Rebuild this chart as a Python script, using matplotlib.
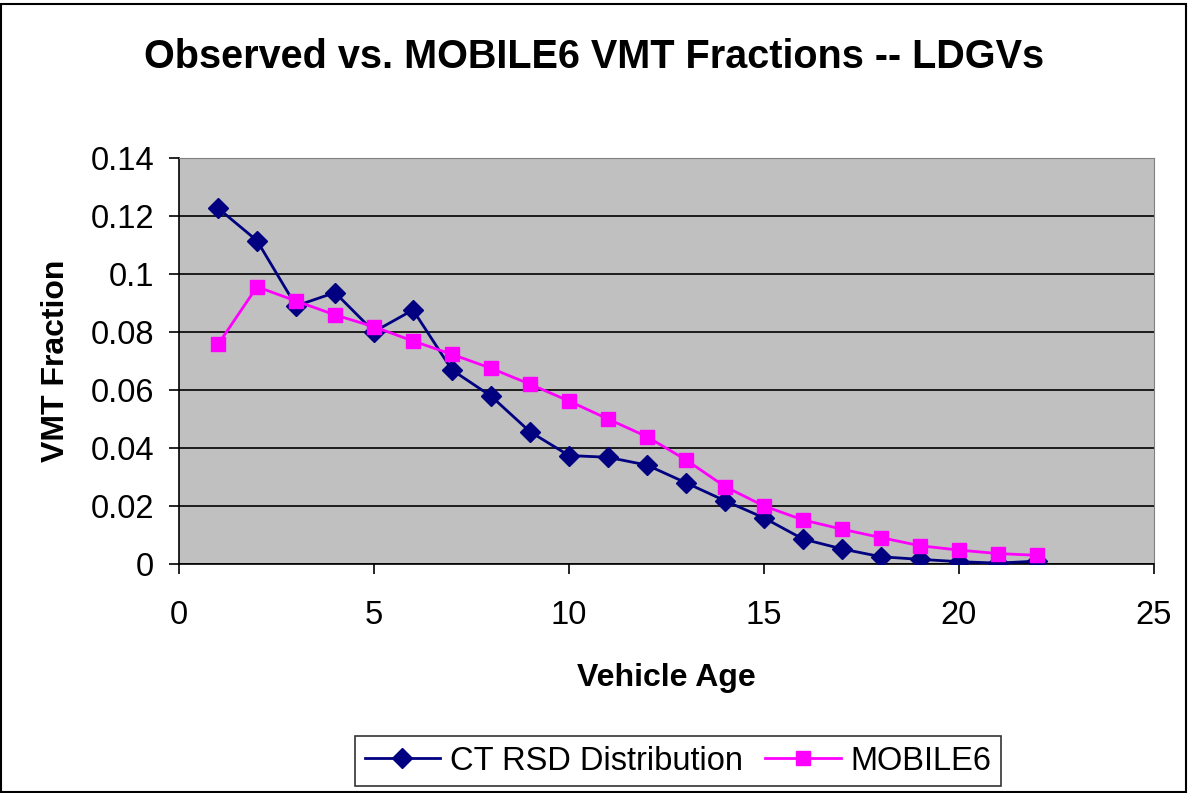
import matplotlib
matplotlib.use('Agg')
from matplotlib import pyplot as plt
from matplotlib.patches import Rectangle

plt.rcParams['font.family'] = ['Liberation Sans', 'DejaVu Sans']

age = list(range(1, 23))
ct_rsd = [0.1227, 0.1115, 0.0890, 0.0936, 0.0801, 0.0876, 0.0669, 0.0579,
          0.0456, 0.0374, 0.0368, 0.0341, 0.0280, 0.0218, 0.0159, 0.0086,
          0.0052, 0.0025, 0.0016, 0.0008, 0.0003, 0.0010]
mobile6 = [0.0757, 0.0956, 0.0907, 0.0859, 0.0818, 0.0769, 0.0723, 0.0675,
           0.0620, 0.0562, 0.0500, 0.0439, 0.0359, 0.0267, 0.0200, 0.0152,
           0.0120, 0.0091, 0.0063, 0.0048, 0.0036, 0.0030]

fig = plt.figure(figsize=(11.88, 7.93), dpi=100)
ax = fig.add_axes([179/1188, 1-564/793, (1154-179)/1188, (564-158)/793])
ax.set_facecolor('#C0C0C0')

ax.plot(age, ct_rsd, color='#000080', marker='D', markersize=10, lw=2,
        label='CT RSD Distribution', zorder=3)
ax.plot(age, mobile6, color='#FF00FF', marker='s', markersize=10, lw=2,
        label='MOBILE6', zorder=3)

ax.set_xlim(0, 25)
ax.set_ylim(0, 0.14)
ax.set_xticks([0, 5, 10, 15, 20, 25])
ax.set_yticks([0, 0.02, 0.04, 0.06, 0.08, 0.1, 0.12, 0.14])
ax.set_yticklabels(['0', '0.02', '0.04', '0.06', '0.08', '0.1', '0.12', '0.14'])
ax.yaxis.grid(True, color='black', lw=1.2)
ax.set_axisbelow(True)
ax.tick_params(labelsize=23.5, length=7, width=1.2, direction='out')
ax.tick_params(axis='y', pad=11)
ax.tick_params(axis='x', pad=19)
for s in ['top', 'right']:
    ax.spines[s].set_color('#808080')
for s in ['left', 'bottom']:
    ax.spines[s].set_color('black')
    ax.spines[s].set_linewidth(1.2)

ax.set_xlabel('Vehicle Age', fontsize=23, fontweight='bold', labelpad=23)
ax.set_ylabel('VMT Fraction', fontsize=23, fontweight='bold', labelpad=14)
fig.suptitle('Observed vs. MOBILE6 VMT Fractions -- LDGVs', fontsize=28.5,
             fontweight='bold', y=1-57/793, va='center')

leg = fig.legend(loc='center', bbox_to_anchor=(678/1188, 1-761/793), ncol=2,
                 fontsize=23.5, frameon=True, fancybox=False, edgecolor='black',
                 handlelength=2.3, columnspacing=0.7, borderpad=0.3,
                 handletextpad=0.3)
leg.get_frame().set_linewidth(1.2)

fig.patches.append(Rectangle((0.001, 0.001), 0.997, 0.994, transform=fig.transFigure,
                             fill=False, edgecolor='black', lw=1.5))

fig.savefig('out.png', dpi=100)
